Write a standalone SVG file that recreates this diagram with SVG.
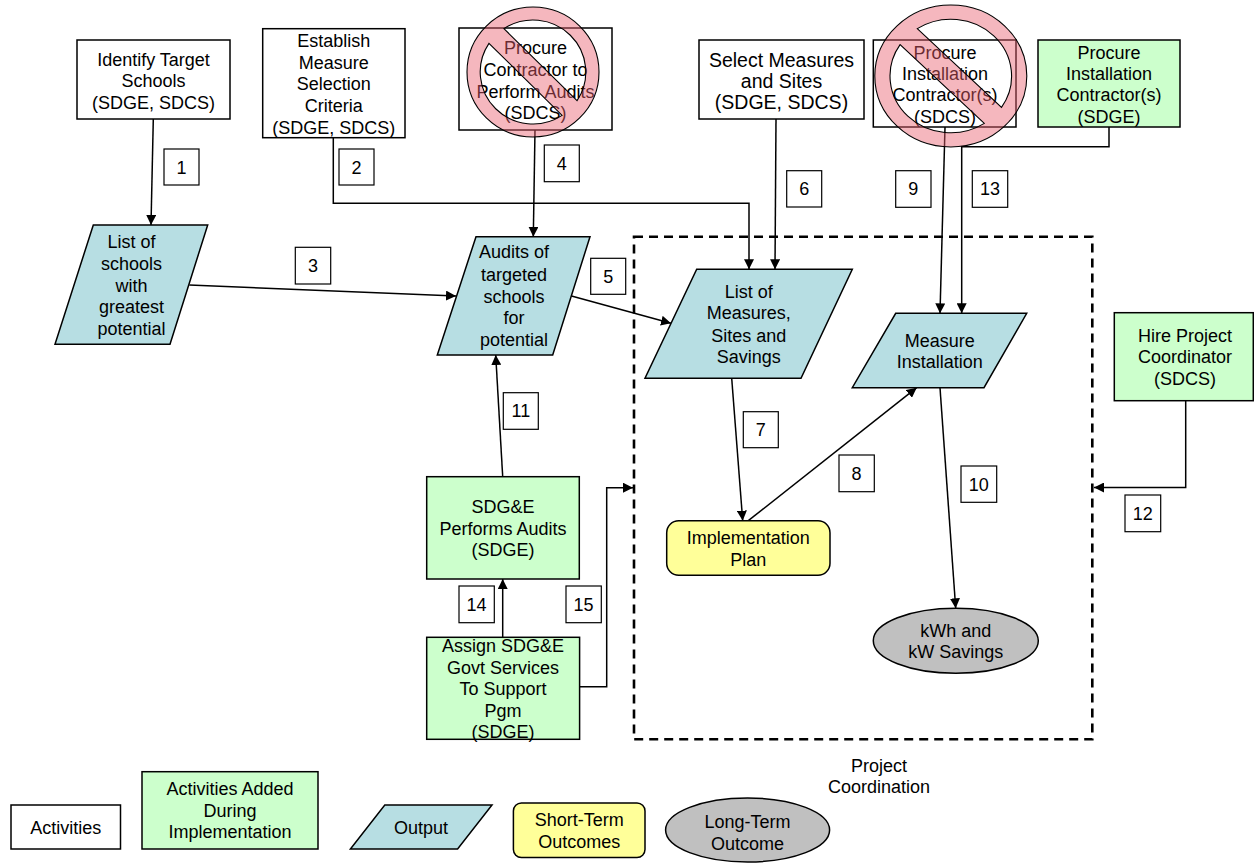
<svg xmlns="http://www.w3.org/2000/svg" xmlns:xlink="http://www.w3.org/1999/xlink" width="1254" height="866" viewBox="0 0 1254 866">
<style>
.box{fill:#ffffff;stroke:#000;stroke-width:1.5}
.green{fill:#ccffcc;stroke:#000;stroke-width:1.5}
.out{fill:#b7dee3;stroke:#000;stroke-width:1.5}
.short{fill:#ffff99;stroke:#000;stroke-width:1.5}
.long{fill:#c0c0c0;stroke:#000;stroke-width:1.5}
.t{font-family:"Liberation Sans",Arial,sans-serif;font-size:18px;text-anchor:middle;fill:#000}
.big{font-size:19.5px}
.lbl rect{fill:#fff;stroke:#000;stroke-width:1.2}
.conn{fill:none;stroke:#000;stroke-width:1.5}
.arr{marker-end:url(#ah)}
.dash{fill:none;stroke:#000;stroke-width:2.6;stroke-dasharray:9 6}
.no{fill:#e8606e;fill-opacity:0.45;fill-rule:evenodd;stroke:#000;stroke-width:1.1}
</style>
<defs>
<marker id="ah" viewBox="0 0 10 10" refX="10" refY="5" markerWidth="10" markerHeight="10" markerUnits="userSpaceOnUse" orient="auto">
<path d="M0,0 L10,5 L0,10 Z" fill="#000"/>
</marker>
<path id="nosign" class="no" vector-effect="non-scaling-stroke" d="M-100,0 A100,100 0 1 0 100,0 A100,100 0 1 0 -100,0 Z M-44.11,-66.73 A80,80 0 0 1 66.73,44.11 Z M44.11,66.73 A80,80 0 0 1 -66.73,-44.11 Z"/>
</defs>
<rect width="1254" height="866" fill="#fff"/>

<g id="project-coordination">
<rect class="dash" x="634" y="236.7" width="458.3" height="502.6"/>
<text class="t"><tspan x="879" y="772">Project</tspan><tspan x="879" y="793">Coordination</tspan></text>
</g>

<g id="connectors">
<path class="conn arr" d="M153.3,119 L151,225"/>
<path class="conn arr" d="M333.3,137.7 V203.3 H749 V269.3"/>
<path class="conn arr" d="M189.3,285 L456,296"/>
<path class="conn arr" d="M535,130 L533.3,236.7"/>
<path class="conn arr" d="M571.5,296 L671,323.3"/>
<path class="conn arr" d="M776,119 L775,269.3"/>
<path class="conn arr" d="M731.7,378.3 L742.7,520.7"/>
<path class="conn arr" d="M748.3,520.7 L916.7,387.7"/>
<path class="conn arr" d="M945,127 L940,313.3"/>
<path class="conn arr" d="M940,387.7 L955.7,608.3"/>
<path class="conn arr" d="M502.7,476.7 L495.7,355"/>
<path class="conn arr" d="M1185.7,400.7 V487.5 H1094"/>
<path class="conn arr" d="M1109,127 V146.7 H961.7 V313.3"/>
<path class="conn arr" d="M502.7,637.3 V579"/>
<path class="conn arr" d="M579.6,686.7 H606.7 V487.7 H633"/>
</g>

<g id="connector-labels" class="lbl">
<rect x="164" y="149" width="35" height="36"/><text class="t" x="181.5" y="173.5">1</text>
<rect x="339" y="149" width="35" height="36"/><text class="t" x="356.5" y="173.5">2</text>
<rect x="295.3" y="247.3" width="35.4" height="36.7"/><text class="t" x="313" y="272">3</text>
<rect x="544.3" y="145" width="35" height="36.7"/><text class="t" x="561.8" y="169.8">4</text>
<rect x="590.7" y="258.3" width="35" height="36"/><text class="t" x="608.2" y="282.8">5</text>
<rect x="786.7" y="170.7" width="35" height="36.3"/><text class="t" x="804.2" y="195.3">6</text>
<rect x="743.3" y="411.7" width="35" height="36"/><text class="t" x="760.8" y="436.2">7</text>
<rect x="839" y="455" width="35.3" height="36.7"/><text class="t" x="856.6" y="479.8">8</text>
<rect x="895.7" y="170.7" width="35.3" height="36.6"/><text class="t" x="913.3" y="195.4">9</text>
<rect x="961" y="466" width="35.7" height="36.3"/><text class="t" x="978.8" y="490.6">10</text>
<rect x="503.3" y="392.7" width="35" height="36.6"/><text class="t" x="520.8" y="417.4">11</text>
<rect x="1125" y="495" width="35.7" height="36.7"/><text class="t" x="1142.8" y="519.8">12</text>
<rect x="972.3" y="170.7" width="35.4" height="36.6"/><text class="t" x="990" y="195.4">13</text>
<rect x="459" y="586" width="35.3" height="36.7"/><text class="t" x="476.6" y="610.8">14</text>
<rect x="566" y="586" width="35.3" height="36.7"/><text class="t" x="583.6" y="610.8">15</text>
</g>

<g id="identify-target-schools">
<rect class="box" x="77" y="40" width="153" height="79"/>
<text class="t"><tspan x="153.5" y="65.5">Identify Target</tspan><tspan x="153.5" y="87">Schools</tspan><tspan x="153.5" y="108.5">(SDGE, SDCS)</tspan></text>
</g>

<g id="establish-criteria">
<rect class="box" x="262.7" y="28.7" width="142.3" height="109"/>
<text class="t"><tspan x="333.8" y="46.7">Establish</tspan><tspan x="333.8" y="68.5">Measure</tspan><tspan x="333.8" y="90.3">Selection</tspan><tspan x="333.8" y="112">Criteria</tspan><tspan x="333.8" y="133.5">(SDGE, SDCS)</tspan></text>
</g>

<g id="procure-audit-contractor">
<rect class="box" x="459" y="28" width="153" height="102"/>
<text class="t"><tspan x="535.5" y="54.3">Procure</tspan><tspan x="535.5" y="76">Contractor to</tspan><tspan x="535.5" y="97.5">Perform Audits</tspan><tspan x="535.5" y="119">(SDCS)</tspan></text>
<use xlink:href="#nosign" href="#nosign" transform="translate(533,72) scale(0.66,0.65)"/>
</g>

<g id="select-measures">
<rect class="box" x="699" y="40" width="165" height="79"/>
<text class="t big"><tspan x="781.5" y="66.5">Select Measures</tspan><tspan x="781.5" y="87.5">and Sites</tspan><tspan x="781.5" y="108.5">(SDGE, SDCS)</tspan></text>
</g>

<g id="procure-installation-sdcs">
<rect class="box" x="873.3" y="40" width="142.7" height="87"/>
<text class="t"><tspan x="945" y="58.5">Procure</tspan><tspan x="945" y="79.5">Installation</tspan><tspan x="945" y="101">Contractor(s)</tspan><tspan x="945" y="122.5">(SDCS)</tspan></text>
<use xlink:href="#nosign" href="#nosign" transform="translate(950.8,76) scale(0.76,0.71)"/>
</g>

<g id="procure-installation-sdge">
<rect class="green" x="1038" y="40" width="142" height="87"/>
<text class="t"><tspan x="1109" y="58.5">Procure</tspan><tspan x="1109" y="79.5">Installation</tspan><tspan x="1109" y="101">Contractor(s)</tspan><tspan x="1109" y="122.5">(SDGE)</tspan></text>
</g>

<g id="list-of-schools">
<polygon class="out" points="93.3,225 207.7,225 170,344.3 55,344.3"/>
<text class="t"><tspan x="131.5" y="248">List of</tspan><tspan x="131.5" y="270">schools</tspan><tspan x="131.5" y="291.5">with</tspan><tspan x="131.5" y="313">greatest</tspan><tspan x="131.5" y="335">potential</tspan></text>
</g>

<g id="audits-of-schools">
<polygon class="out" points="476,236.7 590,236.7 552.7,355 437.3,355"/>
<text class="t"><tspan x="514" y="258.3">Audits of</tspan><tspan x="514" y="280.5">targeted</tspan><tspan x="514" y="302.5">schools</tspan><tspan x="514" y="324">for</tspan><tspan x="514" y="346">potential</tspan></text>
</g>

<g id="list-of-measures">
<polygon class="out" points="696.7,269.3 852.3,269.3 801,378.3 645,378.3"/>
<text class="t"><tspan x="748.8" y="297.7">List of</tspan><tspan x="748.8" y="319.3">Measures,</tspan><tspan x="748.8" y="341.5">Sites and</tspan><tspan x="748.8" y="363.3">Savings</tspan></text>
</g>

<g id="measure-installation">
<polygon class="out" points="895.7,313.3 1026.7,313.3 984,387.7 852.3,387.7"/>
<text class="t"><tspan x="939.7" y="346.7">Measure</tspan><tspan x="939.7" y="367.7">Installation</tspan></text>
</g>

<g id="hire-coordinator">
<rect class="green" x="1114.3" y="312.7" width="139" height="88"/>
<text class="t"><tspan x="1185" y="341.7">Hire Project</tspan><tspan x="1185" y="363.3">Coordinator</tspan><tspan x="1185" y="385">(SDCS)</tspan></text>
</g>

<g id="sdge-performs-audits">
<rect class="green" x="426.7" y="476.7" width="152.6" height="102.3"/>
<text class="t"><tspan x="503" y="512.5">SDG&amp;E</tspan><tspan x="503" y="534.5">Performs Audits</tspan><tspan x="503" y="556">(SDGE)</tspan></text>
</g>

<g id="implementation-plan">
<rect class="short" x="666.7" y="520.7" width="163.3" height="54.6" rx="12" ry="12"/>
<text class="t"><tspan x="748.3" y="544">Implementation</tspan><tspan x="748.3" y="565.5">Plan</tspan></text>
</g>

<g id="assign-govt-services">
<rect class="green" x="426.7" y="637.3" width="152.9" height="102"/>
<text class="t"><tspan x="503" y="652.3">Assign SDG&amp;E</tspan><tspan x="503" y="673.5">Govt Services</tspan><tspan x="503" y="695">To Support</tspan><tspan x="503" y="716.5">Pgm</tspan><tspan x="503" y="738">(SDGE)</tspan></text>
</g>

<g id="kwh-savings">
<ellipse class="long" cx="955.8" cy="640.8" rx="82.5" ry="32.5"/>
<text class="t"><tspan x="955.8" y="636.7">kWh and</tspan><tspan x="955.8" y="658.3">kW Savings</tspan></text>
</g>

<g id="legend">
<rect class="box" x="11" y="805" width="109.5" height="44"/>
<text class="t" x="65.7" y="833.5">Activities</text>
<rect class="green" x="142" y="771.7" width="176" height="77.3"/>
<text class="t"><tspan x="230" y="795">Activities Added</tspan><tspan x="230" y="816.7">During</tspan><tspan x="230" y="838.3">Implementation</tspan></text>
<polygon class="out" points="384.8,805 492,805 457.6,849 350.4,849"/>
<text class="t" x="421" y="833.5">Output</text>
<rect class="short" x="513.4" y="803" width="131.6" height="54.5" rx="8" ry="8"/>
<text class="t"><tspan x="579.2" y="826.3">Short-Term</tspan><tspan x="579.2" y="848">Outcomes</tspan></text>
<ellipse class="long" cx="747.6" cy="830" rx="82" ry="32"/>
<text class="t"><tspan x="747.6" y="827.5">Long-Term</tspan><tspan x="747.6" y="849.5">Outcome</tspan></text>
</g>
</svg>
